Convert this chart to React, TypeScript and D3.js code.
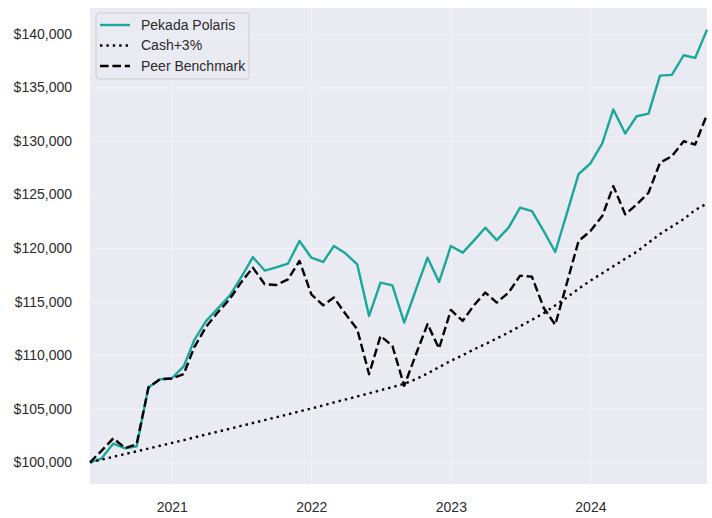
import * as d3 from "d3";
import { useEffect, useRef } from "react";

// monthly values, Jun 2020 .. Nov 2024
const polaris = [
  100000, 100350, 101750, 101300, 101500, 107000, 107760, 107830, 108950, 111430,
  113200, 114350, 115530, 117240, 119150, 117900, 118200, 118550, 120650, 119100,
  118700, 120190, 119480, 118480, 113660, 116770, 116520, 113050, 116060, 119100,
  116830, 120190, 119570, 120650, 121900, 120740, 121900, 123770, 123450, 121580,
  119630, 123300, 126900, 127890, 129760, 132930, 130690, 132300, 132550, 136090,
  136160, 137990, 137740, 140380,
];

const cash = [
  100000, 100260, 100520, 100780, 101030, 101290, 101550, 101810, 102070, 102330,
  102600, 102860, 103130, 103400, 103670, 103940, 104210, 104480, 104760, 105030,
  105310, 105590, 105870, 106150, 106440, 106730, 107020, 107330, 107750, 108300,
  108880, 109480, 110000, 110520, 111040, 111560, 112120, 112700, 113300, 113920,
  114650, 115400, 116200, 116950, 117650, 118300, 119000, 119650, 120500, 121300,
  122000, 122700, 123550, 124150,
];

const peer = [
  100000, 101080, 102240, 101330, 101700, 106990, 107760, 107830, 108230, 110760,
  112670, 113980, 115220, 116770, 118170, 116620, 116550, 117080, 118790, 115680,
  114660, 115380, 113820, 112420, 108230, 111800, 110870, 107140, 110020, 112900,
  110620, 114220, 113200, 114600, 115840, 114910, 115840, 117420, 117330, 114400,
  112840, 116800, 120650, 121580, 122980, 125780, 123140, 124070, 125160, 127960,
  128570, 129970, 129660, 132460,
];

const months = d3.timeMonth.range(new Date(2020, 5, 1), new Date(2024, 10, 2));
const yTicks = [100000, 105000, 110000, 115000, 120000, 125000, 130000, 135000, 140000];
const yearTicks = [2021, 2022, 2023, 2024];

const series = [
  { name: "Pekada Polaris", values: polaris, color: "#1aa79c", dash: null },
  { name: "Cash+3%", values: cash, color: "#000000", dash: "2.4,4" },
  { name: "Peer Benchmark", values: peer, color: "#000000", dash: "8.6,3.8" },
];

const App = () => {
  const svgRef = useRef(null);

  useEffect(() => {
    const w = 712;
    const h = 518;
    const m = { left: 90, right: 5, top: 8, bottom: 34 };
    const font = "'Liberation Sans', Arial, sans-serif";

    const svg = d3.select(svgRef.current).attr("width", w).attr("height", h);
    svg.selectAll("*").remove();

    const all = [...polaris, ...cash, ...peer];
    const lo = d3.min(all) as number;
    const hi = d3.max(all) as number;
    const pad = (hi - lo) * 0.05;

    const x = d3
      .scaleTime()
      .domain(d3.extent(months) as [Date, Date])
      .range([m.left, w - m.right]);
    const y = d3
      .scaleLinear()
      .domain([lo - pad, hi + pad])
      .range([h - m.bottom, m.top]);

    // background
    svg
      .append("rect")
      .attr("x", m.left)
      .attr("y", m.top)
      .attr("width", w - m.left - m.right)
      .attr("height", h - m.top - m.bottom)
      .attr("fill", "#eaeaf2");

    // grid + axes
    const yAxis = d3
      .axisLeft(y)
      .tickValues(yTicks)
      .tickSize(-(w - m.left - m.right))
      .tickPadding(18)
      .tickFormat((d) => d3.format("$,.0f")(d as number));
    const gy = svg.append("g").attr("transform", `translate(${m.left},0)`).call(yAxis);
    gy.select(".domain").remove();
    gy.selectAll(".tick line").attr("stroke", "#f3f3f7").attr("stroke-width", 1);
    gy.selectAll(".tick text")
      .attr("fill", "#2b2b2b")
      .attr("font-family", font)
      .attr("font-size", 14);

    const xAxis = d3
      .axisBottom(x)
      .tickValues(yearTicks.map((yr) => new Date(yr, 0, 1)))
      .tickSize(-(h - m.top - m.bottom))
      .tickPadding(18)
      .tickFormat((d) => d3.timeFormat("%Y")(d as Date));
    const gx = svg
      .append("g")
      .attr("transform", `translate(0,${h - m.bottom})`)
      .call(xAxis);
    gx.select(".domain").remove();
    gx.selectAll(".tick line").attr("stroke", "#f3f3f7").attr("stroke-width", 1);
    gx.selectAll(".tick text")
      .attr("fill", "#2b2b2b")
      .attr("font-family", font)
      .attr("font-size", 14);

    // lines
    const line = d3
      .line<number>()
      .x((_, i) => x(months[i]))
      .y((d) => y(d));

    series.forEach((s) => {
      svg
        .append("path")
        .datum(s.values)
        .attr("d", line)
        .attr("fill", "none")
        .attr("stroke", s.color)
        .attr("stroke-width", 2.4)
        .attr("stroke-linejoin", "round")
        .attr("stroke-dasharray", s.dash);
    });

    // legend
    const lg = svg.append("g").attr("transform", "translate(96,13)");
    lg.append("rect")
      .attr("width", 153)
      .attr("height", 66)
      .attr("rx", 3)
      .attr("fill", "#eaeaf2")
      .attr("fill-opacity", 0.8)
      .attr("stroke", "#cccccc");
    series.forEach((s, i) => {
      const yy = 12 + i * 20.5;
      lg.append("line")
        .attr("x1", 4)
        .attr("x2", 34)
        .attr("y1", yy)
        .attr("y2", yy)
        .attr("stroke", s.color)
        .attr("stroke-width", 2.4)
        .attr("stroke-dasharray", s.dash);
      lg.append("text")
        .attr("x", 45)
        .attr("y", yy)
        .attr("dy", "0.35em")
        .attr("fill", "#2b2b2b")
        .attr("font-family", font)
        .attr("font-size", 14)
        .text(s.name);
    });
  }, []);

  return (
    <div style={{ position: "absolute", left: 0, top: 0 }}>
      <svg ref={svgRef}></svg>
    </div>
  );
};

export default App;
